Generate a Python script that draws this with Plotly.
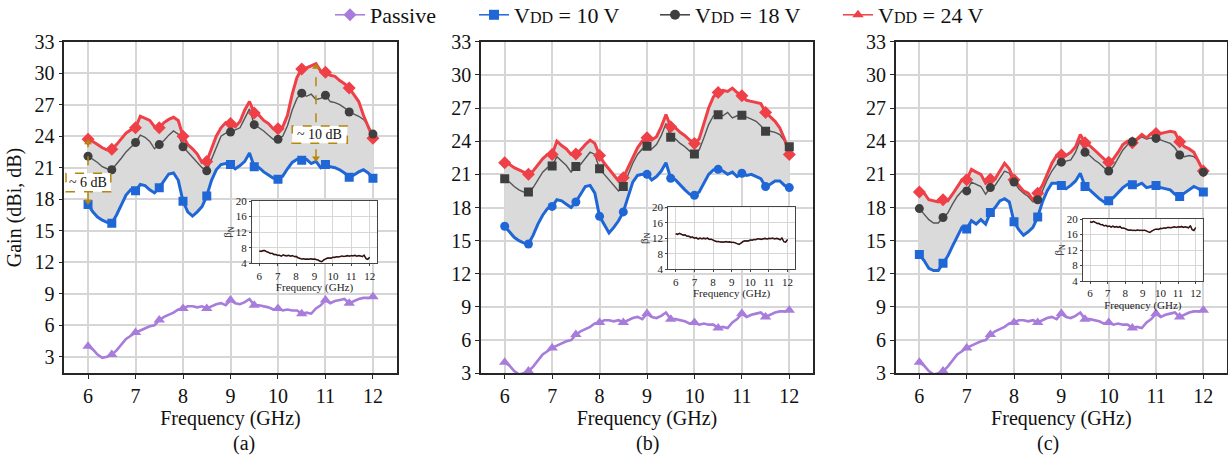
import plotly.graph_objects as go

# ---------------------------------------------------------------- data
freq = [6.0, 6.1, 6.2, 6.3, 6.4, 6.5, 6.6, 6.7, 6.8, 6.9,
        7.0, 7.1, 7.2, 7.3, 7.4, 7.5, 7.6, 7.7, 7.8, 7.9,
        8.0, 8.1, 8.2, 8.3, 8.4, 8.5, 8.6, 8.7, 8.8, 8.9,
        9.0, 9.1, 9.2, 9.3, 9.4, 9.5, 9.6, 9.7, 9.8, 9.9,
        10.0, 10.1, 10.2, 10.3, 10.4, 10.5, 10.6, 10.7, 10.8, 10.9,
        11.0, 11.1, 11.2, 11.3, 11.4, 11.5, 11.6, 11.7, 11.8, 11.9, 12.0]

passive = [4.0, 3.7, 3.2, 2.9, 3.0, 3.2, 3.6, 4.2, 4.7, 5.0,
           5.3, 5.5, 5.7, 5.9, 6.0, 6.5, 6.8, 7.0, 7.2, 7.5,
           7.6, 7.8, 7.8, 7.7, 7.8, 7.6, 7.8, 8.0, 8.1, 7.9,
           8.4, 8.1, 8.0, 8.2, 8.5, 7.9, 7.9, 7.8, 7.7, 7.5,
           7.6, 7.4, 7.5, 7.4, 7.4, 7.1, 7.2, 7.1, 7.6, 7.9,
           8.4, 8.1, 8.3, 8.4, 8.5, 8.1, 8.3, 8.5, 8.6, 8.6, 8.7]

# (a)
a_24 = [23.7, 23.5, 23.2, 22.9, 22.7, 22.75, 23.2, 23.8, 24.3, 24.6,
        24.8, 25.9, 25.7, 25.5, 24.9, 24.8, 25.3, 25.6, 25.8, 25.5,
        24.0, 23.2, 22.8, 22.3, 21.5, 21.6, 22.8, 24.0, 24.8, 25.3,
        25.2, 24.9, 25.4, 26.5, 27.3, 26.2, 26.0, 25.5, 25.2, 24.7,
        24.7, 24.9, 26.0, 28.0, 29.6, 30.4, 30.5, 30.7, 30.9, 30.2,
        30.1, 29.8, 29.7, 29.3, 29.0, 28.6, 28.0, 27.3, 26.0, 24.8, 23.8]
a_18 = [22.1, 21.8, 21.5, 21.1, 20.9, 20.8, 21.3, 21.9, 22.5, 23.0,
        23.4, 24.1, 23.9, 23.5, 22.8, 23.2, 23.6, 24.1, 24.5, 24.2,
        23.0, 22.5, 22.0, 21.5, 21.0, 20.7, 21.8, 23.0, 24.0, 24.3,
        24.4, 24.6, 24.8, 25.7, 26.6, 25.1, 24.8, 24.5, 24.1, 23.7,
        23.7, 24.0, 25.0, 26.5, 27.6, 28.1, 27.8, 28.0, 27.5, 27.6,
        27.9, 27.3, 27.2, 27.0, 26.7, 26.3, 26.1, 25.9, 25.6, 25.0, 24.2]
a_10 = [17.5, 16.8, 16.3, 16.0, 15.8, 15.7, 16.5, 17.5, 18.4, 18.9,
        18.8, 19.4, 19.3, 18.9, 18.6, 19.1, 19.8, 20.4, 20.5, 19.8,
        17.8, 16.8, 16.4, 16.8, 17.3, 18.3, 19.8, 20.8, 21.3, 21.4,
        21.3, 20.9, 21.2, 21.6, 22.4, 21.1, 21.0, 20.6, 20.3, 20.0,
        19.9, 20.2, 20.9, 21.5, 21.8, 21.7, 21.8, 21.4, 21.6, 21.0,
        21.3, 21.1, 21.0, 20.8, 20.5, 20.1, 20.3, 20.6, 20.8, 20.5, 20.0]

# (b)
b_24 = [22.05, 21.9, 21.6, 21.4, 21.2, 21.0, 21.3, 21.9, 22.4, 22.8,
        22.8, 24.0, 23.6, 23.3, 22.8, 22.85, 23.2, 23.7, 24.1, 23.8,
        22.7, 22.0, 21.5, 21.0, 20.4, 20.7, 21.6, 22.6, 23.4, 24.0,
        24.3, 24.1, 24.4, 25.3, 26.4, 25.3, 25.2, 24.8, 24.5, 24.1,
        23.8, 24.2, 25.5, 27.0, 28.0, 28.4, 28.6, 28.5, 28.8, 28.4,
        28.1, 27.7, 27.6, 27.5, 27.4, 26.6, 26.2, 25.8, 25.2, 24.2, 22.8]
b_18 = [20.6, 20.3, 19.9, 19.6, 19.4, 19.4, 19.8, 20.5, 21.2, 21.6,
        21.75, 22.6, 22.2, 21.8, 21.2, 21.7, 21.9, 22.5, 23.0, 22.8,
        21.5, 21.0, 20.5, 20.1, 19.5, 19.9, 21.0, 22.0, 22.8, 23.3,
        23.55, 23.3, 23.7, 24.5, 25.6, 24.35, 24.2, 23.8, 23.5, 23.1,
        22.85, 23.2, 24.3, 25.5, 26.3, 26.4, 26.3, 26.6, 26.1, 26.3,
        26.35, 26.2, 26.0, 25.8, 25.4, 24.9, 24.9, 24.8, 24.6, 24.0, 23.5]
b_10 = [16.3, 15.8, 15.3, 15.0, 14.8, 14.7, 15.5, 16.5, 17.3, 17.9,
        18.1, 18.7, 18.6, 18.3, 18.0, 18.5, 19.2, 19.9, 20.0, 19.3,
        17.2, 16.5, 15.7, 16.2, 16.8, 17.6, 19.0, 20.3, 20.9, 21.0,
        21.0, 20.5, 20.8, 21.3, 22.05, 20.65, 20.5, 20.0, 19.6, 19.2,
        19.1, 19.4, 20.2, 21.0, 21.4, 21.45, 21.3, 21.0, 21.2, 20.8,
        21.1, 20.9, 21.0, 20.8, 20.6, 19.9, 20.1, 20.4, 20.4, 20.0, 19.8]

# (c)
c_24 = [19.4, 19.3, 18.7, 18.6, 18.5, 18.7, 18.6, 19.2, 19.8, 20.5,
        20.5, 21.45, 21.2, 21.0, 20.2, 20.55, 20.6, 21.3, 22.0, 21.5,
        20.5, 20.0, 19.5, 19.3, 18.7, 19.3, 20.0, 21.0, 22.0, 22.7,
        22.75, 22.7, 23.0, 23.5, 24.6, 23.85, 23.6, 23.2, 22.8, 22.4,
        22.1, 22.4, 23.0, 23.7, 24.0, 23.85, 24.2, 24.6, 24.3, 24.7,
        24.7, 24.7, 24.8, 24.9, 24.8, 23.95, 23.5, 23.3, 23.0, 22.2, 21.3]
c_18 = [17.9, 17.4, 16.9, 16.6, 16.6, 17.1, 17.5, 18.3, 19.0, 19.5,
        19.5, 20.3, 20.1, 19.9, 19.2, 19.8, 20.0, 20.7, 21.3, 21.1,
        20.3, 19.7, 19.3, 19.0, 18.5, 18.7, 19.5, 20.5, 21.3, 21.9,
        22.1, 22.2, 22.3, 23.0, 24.1, 23.0, 22.7, 22.3, 22.0, 21.6,
        21.3, 21.7, 22.5, 23.2, 23.7, 23.95, 24.1, 24.4, 24.2, 24.3,
        24.25, 24.1, 24.0, 23.8, 23.4, 22.75, 22.6, 22.7, 22.6, 22.2, 21.2]
c_10 = [13.75, 13.2, 12.5, 12.3, 12.3, 12.95, 13.6, 14.5, 15.4, 16.2,
        16.05, 16.8, 16.5, 16.9, 16.5, 17.55, 18.0, 18.6, 18.8, 18.5,
        16.7, 16.0, 15.5, 15.8, 16.2, 17.15, 18.5, 19.5, 20.2, 20.2,
        20.0, 19.7, 20.0, 20.4, 21.1, 19.9, 19.6, 19.2, 18.8, 18.5,
        18.6, 18.9, 19.4, 19.8, 20.1, 20.05, 20.0, 20.2, 19.8, 19.9,
        20.0, 19.8, 19.7, 19.6, 19.2, 19.0, 19.3, 19.6, 19.9, 19.7, 19.4]

# beta_N insets: black and red traces
beta_a_k = [7.2, 7.0, 7.3, 7.3, 6.9, 6.8, 6.5, 6.6, 6.2, 6.3,
            6.0, 6.1, 5.8, 6.2, 6.0, 5.9, 6.1, 5.8, 6.0, 5.7,
            5.8, 5.4, 5.3, 5.1, 5.2, 5.0, 5.1, 5.0, 5.2, 5.0,
            5.1, 5.0, 4.8, 4.5, 4.4, 4.9, 5.2, 5.3, 5.4, 5.3,
            5.6, 5.5, 5.7, 5.6, 5.8, 5.9, 5.7, 5.9, 6.0, 5.8,
            6.0, 5.9, 6.1, 5.8, 6.0, 5.9, 5.7, 6.1, 5.2, 5.0, 5.6]
beta_a_r = [7.1, 7.1, 7.2, 7.2, 7.0, 6.7, 6.6, 6.5, 6.3, 6.2,
            6.1, 6.0, 5.9, 6.1, 5.9, 6.0, 6.0, 5.9, 5.9, 5.8,
            5.7, 5.5, 5.2, 5.2, 5.1, 5.1, 5.0, 5.1, 5.1, 5.1,
            5.0, 4.9, 4.9, 4.6, 4.5, 4.8, 5.1, 5.4, 5.3, 5.4,
            5.5, 5.6, 5.6, 5.7, 5.7, 5.8, 5.8, 5.8, 5.9, 5.9,
            5.9, 6.0, 6.0, 5.9, 5.9, 5.8, 5.8, 6.0, 5.3, 5.1, 5.5]
beta_b_k = [13.2, 13.0, 13.3, 13.1, 12.8, 12.9, 12.5, 12.6, 12.2, 12.4,
            12.0, 12.2, 11.8, 12.1, 11.9, 12.0, 11.8, 12.1, 11.7, 11.8,
            11.5, 11.4, 11.1, 11.2, 11.0, 11.1, 11.0, 11.2, 11.0, 11.1,
            10.9, 11.0, 10.8, 10.5, 10.4, 10.8, 11.2, 11.3, 11.4, 11.3,
            11.6, 11.5, 11.7, 11.6, 11.9, 11.8, 11.7, 11.9, 12.0, 11.8,
            12.0, 11.9, 12.1, 11.8, 12.0, 11.9, 11.6, 12.1, 11.1, 11.0, 11.7]
beta_b_r = [13.1, 13.1, 13.2, 13.0, 12.9, 12.7, 12.6, 12.4, 12.3, 12.2,
            12.1, 12.0, 11.9, 12.0, 11.8, 12.1, 11.9, 11.9, 11.8, 11.7,
            11.6, 11.3, 11.2, 11.1, 11.1, 11.0, 11.1, 11.1, 11.1, 11.0,
            11.0, 10.9, 10.9, 10.6, 10.5, 10.7, 11.1, 11.4, 11.3, 11.4,
            11.5, 11.6, 11.6, 11.7, 11.8, 11.9, 11.8, 11.8, 11.9, 11.9,
            11.9, 12.0, 12.0, 11.9, 11.9, 11.8, 11.7, 12.0, 11.2, 11.1, 11.6]
beta_c_k = [19.3, 19.1, 19.4, 19.2, 18.8, 18.9, 18.5, 18.6, 18.2, 18.4,
            18.0, 18.2, 17.9, 18.2, 17.9, 18.0, 17.8, 18.1, 17.6, 17.7,
            17.4, 17.3, 17.1, 17.2, 17.0, 17.1, 17.0, 17.2, 17.0, 17.1,
            17.0, 17.1, 16.9, 16.6, 16.5, 16.9, 17.2, 17.3, 17.4, 17.3,
            17.6, 17.5, 17.7, 17.6, 17.8, 17.8, 17.7, 17.9, 18.0, 17.8,
            18.0, 17.9, 18.1, 17.8, 18.0, 17.9, 17.7, 18.3, 17.2, 17.0, 17.8]
beta_c_r = [19.2, 19.2, 19.3, 19.1, 18.9, 18.8, 18.6, 18.5, 18.3, 18.3,
            18.1, 18.1, 18.0, 18.1, 17.8, 18.1, 17.9, 17.9, 17.7, 17.6,
            17.5, 17.2, 17.2, 17.1, 17.1, 17.0, 17.1, 17.1, 17.1, 17.0,
            17.1, 17.0, 17.0, 16.7, 16.6, 16.8, 17.1, 17.4, 17.3, 17.4,
            17.5, 17.6, 17.6, 17.7, 17.7, 17.9, 17.8, 17.8, 17.9, 17.9,
            17.9, 18.0, 18.0, 17.9, 17.9, 17.8, 17.8, 18.2, 17.3, 17.1, 17.7]

gain_ticks = [3, 6, 9, 12, 15, 18, 21, 24, 27, 30, 33]
freq_ticks = [6, 7, 8, 9, 10, 11, 12]
beta_ticks = [4, 8, 12, 16, 20]
panel_labels = ["(a)", "(b)", "(c)"]
SUB = "<span style='font-size:16px'>DD</span>"
legend_names = ["Passive", "V" + SUB + " = 10 V", "V" + SUB + " = 18 V", "V" + SUB + " = 24 V"]

# ---------------------------------------------------------------- style
FONT = "Liberation Serif"
C_PASSIVE = "#a77cdb"
C_10 = "#1f67d6"
C_18 = "#555555"
C_18M = "#3f3f3f"
C_24 = "#ef4047"
C_FILL = "#dadada"
C_GRID = "#d6d6d6"
C_AX = "#262626"
C_NOTE = "#b8860b"

W, H = 1228, 457


def fx(p):
    return p / W


def fy(p):
    return 1 - p / H


mark_idx = list(range(0, len(freq), 5))


def pick(seq):
    return [seq[i] for i in mark_idx]


panels = [
    dict(n="", v10=a_10, v18=a_18, v24=a_24, s10="square", s18="circle",
         ylo=1.42, px=(64.3, 396.7), ins=(252, 377, 201, 263.3),
         beta=(beta_a_k, beta_a_r)),
    dict(n="2", v10=b_10, v18=b_18, v24=b_24, s10="circle", s18="square",
         ylo=3, px=(481, 813), ins=(668.3, 795, 207.3, 269.3),
         beta=(beta_b_k, beta_b_r)),
    dict(n="3", v10=c_10, v18=c_18, v24=c_24, s10="square", s18="circle",
         ylo=3, px=(895.7, 1227), ins=(1083, 1202.7, 219, 281),
         beta=(beta_c_k, beta_c_r)),
]

fig = go.Figure()
layout_axes = {}
annotations = []
shapes = []

for k, p in enumerate(panels):
    xr, yr = "x" + p["n"], "y" + p["n"]
    common = dict(xaxis=xr, yaxis=yr, showlegend=False, hoverinfo="skip")

    # shaded band between 10 V and 24 V
    fig.add_trace(go.Scatter(x=freq + freq[::-1], y=p["v24"] + p["v10"][::-1],
                             fill="toself", fillcolor=C_FILL, mode="lines",
                             line=dict(width=0), **common))
    fig.add_trace(go.Scatter(x=freq, y=p["v18"], mode="lines",
                             line=dict(color=C_18, width=1.4), **common))
    fig.add_trace(go.Scatter(x=freq, y=passive, mode="lines",
                             line=dict(color=C_PASSIVE, width=2.6), **common))
    fig.add_trace(go.Scatter(x=freq, y=p["v10"], mode="lines",
                             line=dict(color=C_10, width=3), **common))
    fig.add_trace(go.Scatter(x=freq, y=p["v24"], mode="lines",
                             line=dict(color=C_24, width=3), **common))
    # markers every 0.5 GHz
    fig.add_trace(go.Scatter(x=pick(freq), y=pick(passive), mode="markers",
                             marker=dict(symbol="triangle-up", size=10, color=C_PASSIVE),
                             **common))
    fig.add_trace(go.Scatter(x=pick(freq), y=pick(p["v10"]), mode="markers",
                             marker=dict(symbol=p["s10"], size=9, color=C_10), **common))
    fig.add_trace(go.Scatter(x=pick(freq), y=pick(p["v24"]), mode="markers",
                             marker=dict(symbol="diamond", size=10, color=C_24), **common))
    fig.add_trace(go.Scatter(x=pick(freq), y=pick(p["v18"]), mode="markers",
                             marker=dict(symbol=p["s18"], size=9, color=C_18M), **common))

    x0, x1 = p["px"]
    xa = dict(domain=[fx(x0), fx(x1)], range=[5.5, 12.5], tickvals=freq_ticks,
              showgrid=True, gridcolor=C_GRID, gridwidth=1.5, zeroline=False,
              showline=True, linecolor=C_AX, linewidth=1.5, mirror=True,
              ticks="outside", ticklen=4, tickcolor=C_AX,
              tickfont=dict(family=FONT, size=20, color="#111"),
              title=dict(text="Frequency (GHz)", font=dict(family=FONT, size=20, color="#111"),
                         standoff=4),
              anchor=yr)
    ya = dict(domain=[fy(373.3), fy(41.7)], range=[p["ylo"], 33], tickvals=gain_ticks,
              showgrid=True, gridcolor=C_GRID, gridwidth=1.5, zeroline=False,
              showline=True, linecolor=C_AX, linewidth=1.5, mirror=True,
              ticks="outside", ticklen=4, tickcolor=C_AX,
              tickfont=dict(family=FONT, size=20, color="#111"),
              anchor=xr)
    if k == 0:
        ya["title"] = dict(text="Gain (dBi, dB)", font=dict(family=FONT, size=20, color="#111"),
                           standoff=8)
    layout_axes["xaxis" + p["n"]] = xa
    layout_axes["yaxis" + p["n"]] = ya

    annotations.append(dict(text=panel_labels[k], xref="paper", yref="paper",
                            x=fx((x0 + x1) / 2), y=fy(443), yanchor="middle",
                            showarrow=False,
                            font=dict(family=FONT, size=20, color="#111")))

# insets (drawn after the main panels so they sit on top)
for k, p in enumerate(panels):
    n = str(k + 4)
    xr, yr = "x" + n, "y" + n
    common = dict(xaxis=xr, yaxis=yr, showlegend=False, hoverinfo="skip")
    bk, br = p["beta"]
    fig.add_trace(go.Scatter(x=freq, y=br, mode="lines",
                             line=dict(color="#e03a3a", width=1.3), **common))
    fig.add_trace(go.Scatter(x=freq, y=bk, mode="lines",
                             line=dict(color="#1a1a1a", width=1.3), **common))
    l, r, t, b = p["ins"]
    layout_axes["xaxis" + n] = dict(
        domain=[fx(l), fx(r)], range=[5.6, 12.4], tickvals=freq_ticks,
        showgrid=True, gridcolor=C_GRID, gridwidth=1, zeroline=False,
        showline=True, linecolor="#444", linewidth=1, mirror=True,
        ticks="outside", ticklen=2, tickcolor="#444",
        tickfont=dict(family=FONT, size=11, color="#222"),
        title=dict(text="Frequency (GHz)", font=dict(family=FONT, size=11, color="#222"),
                   standoff=1),
        anchor=yr)
    layout_axes["yaxis" + n] = dict(
        domain=[fy(b), fy(t)], range=[4, 20], tickvals=beta_ticks,
        showgrid=True, gridcolor=C_GRID, gridwidth=1, zeroline=False,
        showline=True, linecolor="#444", linewidth=1, mirror=True,
        ticks="outside", ticklen=2, tickcolor="#444",
        tickfont=dict(family=FONT, size=11, color="#222"),
        title=dict(text="β<sub>N</sub>", font=dict(family=FONT, size=11, color="#222"),
                   standoff=1),
        anchor=xr)

# gain-difference markers on panel (a)
for xi, box, label in [(0, (5.536, 6.479, 18.71, 20.47), "~ 6 dB"),
                       (48, (10.30, 11.46, 23.32, 24.97), "~ 10 dB")]:
    xv, lo, hi = freq[xi], a_10[xi], a_24[xi]
    fig.add_trace(go.Scatter(x=[xv, xv], y=[lo + 0.3, hi - 0.3], mode="lines+markers",
                             line=dict(color=C_NOTE, width=1.5, dash="dash"),
                             marker=dict(symbol=["triangle-down", "triangle-up"], size=7,
                                         color=C_NOTE),
                             xaxis="x", yaxis="y", showlegend=False, hoverinfo="skip"))
    bx0, bx1, by0, by1 = box
    shapes.append(dict(type="rect", xref="x", yref="y", x0=bx0, x1=bx1, y0=by0, y1=by1,
                       fillcolor="white", line=dict(color=C_NOTE, width=1.5, dash="dash"),
                       layer="above"))
    annotations.append(dict(text=label, xref="x", yref="y", x=(bx0 + bx1) / 2,
                            y=(by0 + by1) / 2, showarrow=False,
                            font=dict(family=FONT, size=14, color="#111")))

# legend: one single-entry legend per series, laid out in a row
legend_styles = [(C_PASSIVE, "diamond"), (C_10, "square"), (C_18M, "circle"), (C_24, "triangle-up")]
legend_text_px = [372, 516, 697, 880]
legend_layout = {}
for i, (name, (col, sym), tx) in enumerate(zip(legend_names, legend_styles, legend_text_px)):
    lid = "legend" if i == 0 else "legend%d" % (i + 1)
    fig.add_trace(go.Scatter(x=[None], y=[None], mode="lines+markers", name=name,
                             line=dict(color=col, width=1.5),
                             marker=dict(symbol=sym, size=10, color=col),
                             xaxis="x", yaxis="y", legend=lid))
    legend_layout[lid] = dict(x=fx(tx - 42), xanchor="left", y=fy(15), yanchor="middle",
                              orientation="h",
                              font=dict(family=FONT, size=22, color="#111"),
                              bgcolor="rgba(0,0,0,0)", itemwidth=30)

fig.update_layout(
    width=W, height=H,
    margin=dict(l=0, r=0, t=0, b=0, autoexpand=False),
    paper_bgcolor="white", plot_bgcolor="white",
    font=dict(family=FONT, color="#111"),
    annotations=annotations,
    shapes=shapes,
    **legend_layout,
    **layout_axes,
)

fig.write_html("out.html")
